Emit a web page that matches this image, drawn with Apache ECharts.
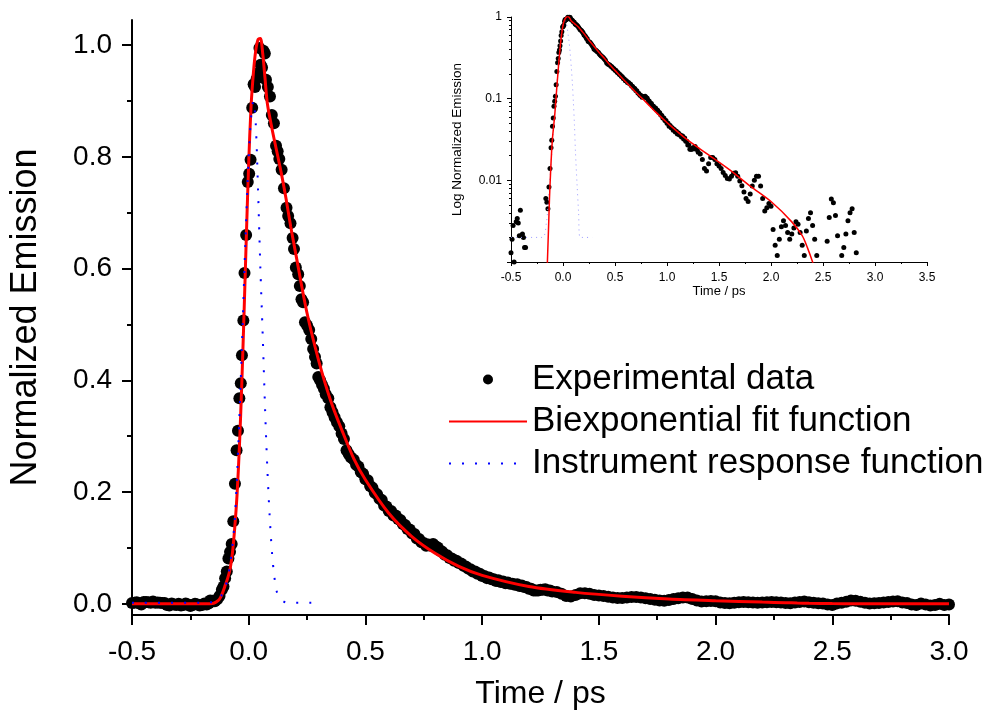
<!DOCTYPE html>
<html><head><meta charset="utf-8">
<script src="https://cdn.jsdelivr.net/npm/echarts@6/dist/echarts.min.js"></script>
<style>html,body{margin:0;padding:0;background:#fff}#c{width:985px;height:715px}</style>
</head><body><div id="c"></div><script>
// ---- Experimental data (time in ps, normalized emission) ----
const expTime = [
-0.50,-0.49,-0.48,-0.47,-0.46,-0.45,-0.44,-0.43,-0.42,-0.41,-0.40,-0.39,-0.38,-0.37,-0.36,-0.35,-0.34,-0.33,-0.32,-0.31,-0.30,-0.29,-0.28,-0.27,-0.26,-0.25,-0.24,-0.23,-0.22,-0.21,-0.20,-0.19,-0.18,-0.17,
-0.165,-0.155,-0.145,-0.135,-0.125,-0.115,-0.108,-0.101,-0.094,-0.087,-0.080,-0.073,-0.066,-0.059,-0.052,-0.046,-0.040,-0.034,-0.029,-0.023,-0.018,-0.011,-0.004,
0.002,0.008,0.015,0.021,0.027,0.034,0.041,0.046,0.051,0.057,0.063,0.069,0.074,0.082,0.091,0.099,0.108,0.117,0.124,0.131,0.141,0.151,0.162,0.169,0.179,0.188,0.194,0.202,0.212,0.219,0.226,0.233,0.241,0.250,0.259,0.268,0.276,0.284,0.291,0.298,0.306,0.314,0.322,0.330,0.341,0.350,0.359,0.368,0.378,0.388,0.398,0.408,0.419,0.428,0.438,
0.45,0.46,0.47,0.48,0.49,0.50,0.51,0.52,0.53,0.54,0.55,0.56,0.57,0.58,0.59,0.60,0.61,0.62,0.63,0.64,0.65,0.66,0.67,0.68,0.69,0.70,0.71,0.72,0.73,0.74,0.75,0.76,0.77,0.78,0.79,0.80,0.81,0.82,0.83,0.84,0.85,0.86,0.87,0.88,0.89,0.90,0.91,0.92,0.93,0.94,0.95,0.96,0.97,0.98,0.99,1.00,1.01,1.02,1.03,1.04,1.05,1.06,1.07,1.08,1.09,1.10,1.11,1.12,1.13,1.14,1.15,1.16,1.17,1.18,1.19,1.20,1.21,1.22,1.23,1.24,1.25,1.26,1.27,1.28,1.29,1.30,
1.32,1.34,1.36,1.38,1.40,1.42,1.44,1.46,1.48,1.50,1.52,1.54,1.56,1.58,1.60,1.62,1.64,1.66,1.68,1.70,1.72,1.74,1.76,1.78,1.80,1.82,1.84,1.86,1.88,1.90,1.92,1.94,1.96,1.98,2.00,
2.02,2.04,2.06,2.08,2.10,2.12,2.14,2.16,2.18,2.20,2.22,2.24,2.26,2.28,2.30,2.32,2.34,2.36,2.38,2.40,2.42,2.44,2.46,2.48,2.50,2.52,2.54,2.56,2.58,2.60,2.62,2.64,2.66,2.68,2.70,2.72,2.74,2.76,2.78,2.80,2.82,2.84,2.86,2.88,2.90,2.92,2.94,2.96,2.98,3.00];
const expValue = [
0.0013,0.0019,0.0028,0.0010,-0.001,0.0031,0.0034,0.0030,0.0021,0.0043,0.0021,0.0022,0.0020,0.0015,0.0015,-0.002,-0.003,0.0005,-0.001,-0.002,0.0003,-0.003,-0.002,0.0008,-0.001,-0.004,-0.002,0.0002,-0.001,-0.003,-0.002,0.0004,-0.001,0.0009,
0.006,0.0054,0.0045,0.0083,0.014,0.025,0.031,0.046,0.058,0.081,0.093,0.107,0.148,0.215,0.275,0.31,0.368,0.395,0.445,0.507,0.592,0.66,0.755,
0.77,0.795,0.888,0.93,0.925,0.94,0.95,0.995,0.965,0.96,0.99,0.985,0.938,0.925,0.908,0.875,0.86,0.82,0.81,0.796,0.777,0.744,0.709,0.694,0.681,0.655,0.635,0.602,0.59,0.569,0.545,0.54,0.504,0.498,0.49,0.474,0.456,0.442,0.43,0.406,0.40,0.392,0.385,0.375,0.368,0.352,0.343,0.334,0.325,0.318,0.305,0.295,0.275,0.268,0.262,
0.258,0.249,0.246,0.236,0.233,0.223,0.221,0.211,0.208,0.199,0.196,0.188,0.186,0.176,0.174,0.166,0.166,0.158,0.158,0.152,0.150,0.143,0.141,0.134,0.133,0.126,0.125,0.117,0.116,0.110,0.109,0.104,0.106,0.104,0.107,0.103,0.101,0.095,0.093,0.088,0.087,0.082,0.081,0.077,0.077,0.073,0.072,0.068,0.067,0.063,0.062,0.058,0.058,0.054,0.054,0.050,0.050,0.046,0.047,0.044,0.044,0.041,0.042,0.039,0.040,0.037,0.038,0.036,0.036,0.034,0.035,0.032,0.033,0.030,0.030,0.027,0.027,0.024,0.024,0.024,0.025,0.025,0.026,0.024,0.024,0.022,
0.021,0.018,0.014,0.013,0.016,0.019,0.019,0.018,0.016,0.015,0.014,0.0125,0.0115,0.0105,0.0104,0.0112,0.0122,0.0124,0.0112,0.0098,0.0086,0.0072,0.0060,0.0055,0.0068,0.0085,0.0100,0.0112,0.0112,0.0085,0.0060,0.0042,0.0046,0.0052,0.0048,
0.0025,0.0016,0.0012,0.0019,0.0027,0.0032,0.0028,0.0023,0.0019,0.0022,0.0026,0.0031,0.0029,0.0023,0.0016,0.0012,0.0024,0.0034,0.0040,0.0028,0.0019,0.0012,0.0004,-0.001,-0.002,0.0008,0.0018,0.0035,0.0059,0.0053,0.0037,0.0021,0.0006,0.0012,0.0015,0.0022,0.0032,0.0040,0.0045,0.0023,0.0013,-0.001,-0.002,0.0005,-0.001,-0.003,-0.002,0.000,-0.002,-0.001];

// ---- Biexponential fit ----
const fitTime = [-0.5,-0.3,-0.2,-0.17,-0.15,-0.13,-0.12,-0.11,-0.10,-0.09,-0.08,-0.07,-0.06,-0.05,-0.04,-0.03,-0.02,-0.01,0.0,0.01,0.02,0.03,0.04,0.05,0.06,0.07,0.08,0.10,0.12,0.14,0.16,0.18,0.20,0.25,0.30,0.35,0.40,0.45,0.50,0.60,0.70,0.80,0.90,1.0,1.2,1.4,1.6,1.8,2.0,2.2,2.3,2.35,2.4,2.5,2.6,3.0];
const fitValue = [0,0,0,0.0003,0.001,0.006,0.012,0.022,0.034,0.046,0.062,0.09,0.135,0.195,0.28,0.39,0.52,0.66,0.79,0.89,0.95,0.99,1.01,1.012,0.985,0.94,0.895,0.85,0.81,0.77,0.725,0.675,0.63,0.52,0.435,0.365,0.31,0.26,0.222,0.162,0.12,0.09,0.067,0.051,0.031,0.0205,0.0135,0.0085,0.0055,0.0031,0.0021,0.0015,0.001,0.0004,0,0];

// ---- Instrument response function ----
const irfTime = [-0.5,-0.2,-0.16,-0.14,-0.12,-0.10,-0.08,-0.06,-0.045,-0.03,-0.015,0.0,0.01,0.02,0.03,0.04,0.05,0.06,0.07,0.08,0.09,0.10,0.11,0.12,0.135,0.15,0.165,0.28];
const irfValue = [0.002,0.002,0.003,0.006,0.013,0.03,0.07,0.15,0.28,0.45,0.64,0.8,0.87,0.9,0.86,0.74,0.6,0.48,0.35,0.24,0.155,0.09,0.048,0.022,0.009,0.004,0.002,0.002];

// ---- Axis ticks & legend ----
const mainYTicks = [0, 0.2, 0.4, 0.6, 0.8, 1.0];
const mainYMinorTicks = [0.1, 0.3, 0.5, 0.7, 0.9];
const insetYMinorTicks = [0.002,0.003,0.004,0.005,0.006,0.007,0.008,0.009,0.02,0.03,0.04,0.05,0.06,0.07,0.08,0.09,0.2,0.3,0.4,0.5,0.6,0.7,0.8,0.9];
const legendNames = ['Experimental data', 'Biexponential fit function', 'Instrument response function'];

const FONT = '"Liberation Sans", Arial, sans-serif';
const pairs = (t, v) => t.map((x, i) => [x, v[i]]);
const positive = (t, v) => pairs(t, v).filter(p => p[1] > 0);

const chart = echarts.init(document.getElementById('c'), null, {renderer: 'canvas'});
const blk = '#000';
const tickAxis = (values, len, width) => ({
  gridIndex: 0, type: 'value', min: -0.02, max: 1.045, position: 'left',
  axisLine: {show: false, onZero: false},
  axisTick: {show: true, length: len, customValues: values, lineStyle: {color: blk, width: width}},
  splitLine: {show: false}, axisLabel: {show: false}
});
const option = {
  animation: false,
  backgroundColor: '#fff',
  textStyle: {fontFamily: FONT},
  grid: [
    {left: 131, right: 36, top: 20, height: 598},
    {left: 511, right: 58, top: 17, height: 245}
  ],
  legend: {
    left: 443, top: 357, orient: 'vertical', itemWidth: 78, itemHeight: 10, itemGap: 7,
    data: [
      {name: legendNames[0]},
      {name: legendNames[1], itemStyle: {opacity: 0}},
      {name: legendNames[2], itemStyle: {opacity: 0}}
    ],
    textStyle: {fontSize: 35, color: blk, fontFamily: FONT},
    selectedMode: false
  },
  xAxis: [
    {gridIndex: 0, type: 'value', min: -0.5, max: 3.0, interval: 0.5,
     axisLine: {onZero: false, lineStyle: {color: blk, width: 2}},
     axisTick: {length: 10, lineStyle: {color: blk, width: 2}},
     minorTick: {show: true, splitNumber: 2, length: 5, lineStyle: {color: blk, width: 2}},
     splitLine: {show: false},
     axisLabel: {fontSize: 28, color: blk, margin: 23, formatter: v => v.toFixed(1)},
     name: 'Time / ps', nameLocation: 'middle', nameGap: 63,
     nameTextStyle: {fontSize: 32, color: blk}},
    {gridIndex: 1, type: 'value', min: -0.5, max: 3.5, interval: 0.5,
     axisLine: {onZero: false, lineStyle: {color: blk, width: 1}},
     axisTick: {length: 4, lineStyle: {color: blk, width: 1}},
     minorTick: {show: true, splitNumber: 2, length: 2, lineStyle: {color: blk, width: 1}},
     splitLine: {show: false},
     axisLabel: {fontSize: 12, color: blk, margin: 10, formatter: v => v.toFixed(1)},
     name: 'Time / ps', nameLocation: 'middle', nameGap: 23,
     nameTextStyle: {fontSize: 13, color: blk}}
  ],
  yAxis: [
    {gridIndex: 0, type: 'value', min: -0.02, max: 1.045, position: 'left',
     axisLine: {show: true, onZero: false, lineStyle: {color: blk, width: 2}},
     axisTick: {show: false},
     splitLine: {show: false},
     axisLabel: {fontSize: 28, color: blk, margin: 20, customValues: mainYTicks, formatter: v => v.toFixed(1)},
     name: 'Normalized Emission', nameLocation: 'middle', nameGap: 88,
     nameTextStyle: {fontSize: 36, color: blk}},
    tickAxis(mainYTicks, 10, 2),
    tickAxis(mainYMinorTicks, 5, 2),
    {gridIndex: 1, type: 'log', min: 0.001, max: 1, position: 'left', logBase: 10,
     axisLine: {show: true, onZero: false, lineStyle: {color: blk, width: 1}},
     axisTick: {show: true, length: 4, lineStyle: {color: blk, width: 1}},
     splitLine: {show: false},
     axisLabel: {fontSize: 12, color: blk, margin: 9,
       formatter: v => v < 0.002 ? '' : (v >= 1 ? '1' : String(+v.toPrecision(1)))},
     name: 'Log Normalized Emission', nameLocation: 'middle', nameGap: 47,
     nameTextStyle: {fontSize: 13.5, color: blk}},
    {gridIndex: 1, type: 'log', min: 0.001, max: 1, position: 'left',
     axisLine: {show: false, onZero: false},
     axisTick: {show: true, length: 2, customValues: insetYMinorTicks, lineStyle: {color: blk, width: 1}},
     splitLine: {show: false}, axisLabel: {show: false}}
  ],
  series: [
    {name: legendNames[0], type: 'scatter', xAxisIndex: 0, yAxisIndex: 0,
     data: pairs(expTime, expValue), symbol: 'circle', symbolSize: 12,
     itemStyle: {color: blk, opacity: 1}},
    {name: legendNames[1], type: 'line', xAxisIndex: 0, yAxisIndex: 0,
     data: pairs(fitTime, fitValue), symbol: 'none', smooth: 0.3,
     lineStyle: {color: '#ff0000', width: 3}, itemStyle: {color: '#ff0000'}},
    {name: legendNames[2], type: 'line', xAxisIndex: 0, yAxisIndex: 0,
     data: pairs(irfTime, irfValue), symbol: 'none', smooth: 0.3,
     lineStyle: {color: '#0000ff', width: 2, type: [2, 11]}, itemStyle: {color: '#0000ff'}},
    {name: 'irf-inset', type: 'line', xAxisIndex: 1, yAxisIndex: 3,
     data: positive(irfTime, irfValue), symbol: 'none', smooth: 0.3,
     lineStyle: {color: '#9a9aff', width: 1, type: [1, 4]}},
    {name: 'exp-inset', type: 'scatter', xAxisIndex: 1, yAxisIndex: 3,
     data: positive(expTime, expValue), symbol: 'circle', symbolSize: 5,
     itemStyle: {color: blk, opacity: 1}},
    {name: 'fit-inset', type: 'line', xAxisIndex: 1, yAxisIndex: 3,
     data: positive(fitTime, fitValue), symbol: 'none', smooth: 0.3,
     lineStyle: {color: '#ff0000', width: 1.5}}
  ]
};
chart.setOption(option);
</script></body></html>
